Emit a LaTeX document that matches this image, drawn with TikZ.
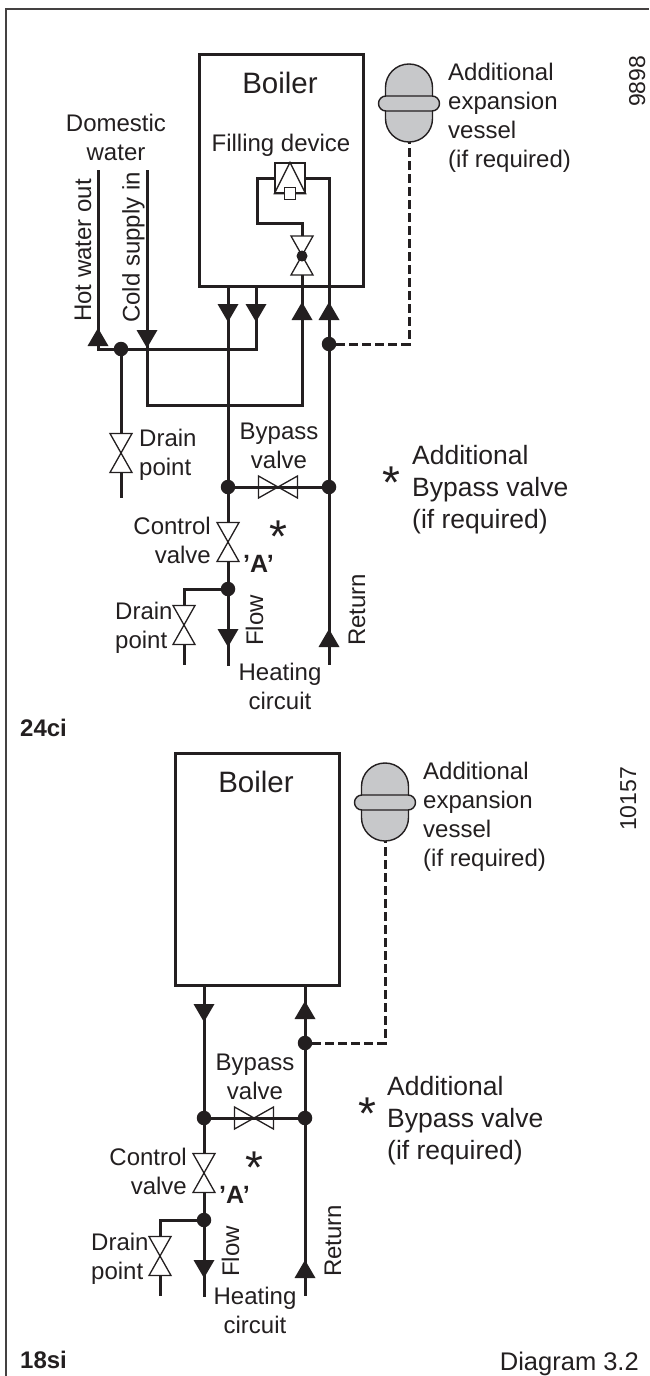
\documentclass[tikz,border=0pt]{standalone}
\usepackage{fontspec}
\setmainfont{Liberation Sans}
\definecolor{inkline}{HTML}{231F20}
\definecolor{vesselgrey}{HTML}{C7C8CA}
\tikzset{
  pipe/.style={draw=inkline, line width=3pt},
  thinline/.style={draw=inkline, line width=1.3pt},
  dashpipe/.style={draw=inkline, line width=3pt, dash pattern=on 9pt off 4pt},
  junction/.style={circle, fill=inkline, inner sep=0pt, minimum size=14.5pt},
  tag/.style={inner sep=0pt, text=inkline, anchor=base, align=center,
    font=\fontsize{24}{29}\selectfont},
  tagleft/.style={tag, anchor=base west, align=left},
  tagright/.style={tag, anchor=base east, align=right},
  uptag/.style={tag, anchor=base west, rotate=90},
  startag/.style={inner sep=0pt, text=inkline, font=\fontsize{46}{46}\selectfont},
  boilerbox/.style={draw=inkline, line width=3pt, minimum width=164pt, minimum height=232pt, inner sep=0pt},
  pics/valve/.style={code={
    \draw[thinline, fill=white] (-11,-19.5) -- (11,-19.5) -- (-11,19.5) -- (11,19.5) -- cycle;
    \coordinate (-in) at (0,-19.5);
    \coordinate (-out) at (0,19.5);
  }},
  pics/head/.style={code={
    \fill[inkline] (-10.5,-18) -- (10.5,-18) -- (0,0) -- cycle;
  }},
  pics/vessel/.style={code={
    \draw[draw=inkline, line width=1.4pt, fill=vesselgrey, rounded corners=23.4pt] (-23.5,-78) rectangle (23.5,0);
    \draw[draw=inkline, line width=1.4pt, fill=vesselgrey, rounded corners=7.5pt] (-30.5,-46) rectangle (30.5,-31);
    \coordinate (-foot) at (0,0);
  }},
  pics/heating/.style={code={
    % junctions
    \node[junction] (-flow) at (0,0) {};
    \node[junction] (-ret) at (101,0) {};
    \node[junction] (-tee) at (0,102) {};
    \coordinate (-corner) at (-44,102);
    \coordinate (-flowend) at (0,179);
    \coordinate (-retend) at (101,178);
    \coordinate (-drainend) at (-44,178);
    % valves
    \pic[rotate=90] (-bypass) at (50,0) {valve};
    \pic (-control) at (0,55) {valve};
    \pic (-drain) at (-44,138) {valve};
    % pipes
    \draw[pipe] (-flow) -- (-bypass-out);
    \draw[pipe] (-bypass-in) -- (-ret);
    \draw[pipe] (-flow) -- (-control-in);
    \draw[pipe] (-control-out) -- (-tee);
    \draw[pipe] (-tee) -- (-flowend);
    \draw[pipe] (-ret) -- (-retend);
    \draw[pipe] (-tee) -- (-corner) -- (-drain-in);
    \draw[pipe] (-drain-out) -- (-drainend);
    \pic at (0,160) {head};
    \pic[rotate=180] at (101,142) {head};
    % labels
    \node[tag] (-bypasstext) at (51,-19) {Bypass\\valve};
    \node[tagright] (-controltext) at (-17,76) {Control\\valve};
    \node[tagleft] (-draintext) at (-113,161) {Drain\\point};
    \node[tag, font=\fontsize{25}{29}\selectfont\bfseries, anchor=base west] (-atext) at (15,85) {\symbol{39}A\symbol{39}};
    \node[startag] (-star) at (50,50) {*};
    \node[uptag] (-flowtext) at (35,159) {Flow};
    \node[uptag] (-rettext) at (137,159) {Return};
  }}
}

\begin{document}
\begin{tikzpicture}[x=1pt, y=-1pt]
  \useasboundingbox (0,0) rectangle (649,1376);
  \draw[draw=inkline!85, line width=1.6pt] (6,1376) -- (6,9) -- (649,9);

  % 24ci boiler
  \node[boilerbox] (boilerA) at (281,170) {};
  \node[tag, font=\fontsize{29.5}{29}\selectfont] (boilerAtext) at (280,93) {Boiler};
  \node[tag] (fillingtext) at (281,151) {Filling device};
  \node[draw=inkline, line width=1.3pt, minimum width=30pt, minimum height=30pt, inner sep=0pt] (filling) at (290,178) {};
  \draw[thinline] (filling.north) -- (filling.south west) -- (filling.south east) -- cycle;
  \node[draw=inkline, line width=1.3pt, fill=white, minimum size=11.5pt, inner sep=0pt] (fillingcap) at (290,193.5) {};
  \pic (fillvalve) at (302,255.5) {valve};
  \node[circle, fill=inkline, inner sep=0pt, minimum size=11pt] (fillvalvedot) at (302,256) {};
  \coordinate (fillcorner) at (257,223);

  % expansion vessel
  \pic (vesselA) at (409,142) {vessel};
  \node[tagleft] (vesselAtext) at (448,167) {Additional\\expansion\\vessel\\(if required)};
  \node[uptag, font=\fontsize{23}{23}\selectfont] (numA) at (645,107) {9898};

  % domestic water
  \node[tag] (domestictext) at (116,160) {Domestic\\water};
  \node[uptag] (hottext) at (91,322) {Hot water out};
  \node[uptag] (coldtext) at (139.5,323) {Cold supply in};
  \coordinate (hotend) at (98,170);
  \coordinate (coldend) at (147,170);
  \coordinate (hotcorner) at (98,349);
  \coordinate (coldcorner) at (147,405);
  \coordinate (hotin) at (256,286);
  \coordinate (flowA) at (228,286);
  \coordinate (coldin) at (302,286);
  \coordinate (hotrise) at (256,349);
  \coordinate (coldrise) at (302,405);
  \node[junction] (hotdot) at (121,349) {};
  \node[junction] (retdotA) at (329,344) {};
  \pic (hotdrain) at (121,453) {valve};
  \coordinate (hotdrainend) at (121,498);
  \node[tagleft] (hotdraintext) at (139,475) {Drain\\point};

  % heating circuit
  \pic (unitA) at (228,487) {heating};
  \node[tag] (heatingAtext) at (280,709) {Heating\\circuit};
  \node[tagleft, font=\fontsize{26.5}{32}\selectfont] (bypassAnote) at (412,528) {Additional\\Bypass valve\\(if required)};
  \node[startag] (starA) at (391,483) {*};
  \node[tagleft, font=\fontsize{24}{29}\selectfont\bfseries] (nameA) at (20,736) {24ci};

  % edges
  \draw[pipe] (filling.west) -| (fillcorner) -| (fillvalve-in);
  \draw[pipe] (filling.east) -| (retdotA);
  \draw[pipe] (fillvalve-out) -- (coldin);
  \draw[pipe] (retdotA) -- (unitA-ret);
  \draw[pipe] (flowA) -- (unitA-flow);
  \draw[pipe] (coldin) -- (coldrise) -- (coldcorner) -- (coldend);
  \draw[pipe] (hotin) -- (hotrise) -- (hotcorner) -- (hotend);
  \draw[pipe] (hotdot) -- (hotdrain-in);
  \draw[pipe] (hotdrain-out) -- (hotdrainend);
  \draw[dashpipe] (retdotA) -| (vesselA-foot);
  \pic at (228,322) {head};
  \pic at (256,322) {head};
  \pic[rotate=180] at (302,302) {head};
  \pic[rotate=180] at (329,302) {head};
  \pic[rotate=180] at (98,328) {head};
  \pic at (147,348) {head};

  % 18si boiler
  \node[boilerbox] (boilerB) at (257,869) {};
  \node[tag, font=\fontsize{29.5}{29}\selectfont] (boilerBtext) at (256,792) {Boiler};
  \pic (vesselB) at (385,841) {vessel};
  \node[tagleft] (vesselBtext) at (423,866) {Additional\\expansion\\vessel\\(if required)};
  \node[uptag, font=\fontsize{23}{23}\selectfont] (numB) at (636,831) {10157};
  \coordinate (flowB) at (204,985);
  \coordinate (retB) at (305,985);
  \node[junction] (retdotB) at (305,1043) {};

  % heating circuit
  \pic (unitB) at (204,1118) {heating};
  \node[tag] (heatingBtext) at (255,1333) {Heating\\circuit};
  \node[tagleft, font=\fontsize{26.5}{32}\selectfont] (bypassBnote) at (387,1159) {Additional\\Bypass valve\\(if required)};
  \node[startag] (starB) at (367,1114) {*};
  \node[tagleft, font=\fontsize{24}{29}\selectfont\bfseries] (nameB) at (20,1368) {18si};
  \node[tagright, font=\fontsize{25.5}{29}\selectfont] (diagramtext) at (639,1370) {Diagram 3.2};

  % edges
  \draw[pipe] (flowB) -- (unitB-flow);
  \draw[pipe] (retB) -- (unitB-ret);
  \draw[dashpipe] (retdotB) -| (vesselB-foot);
  \pic at (204,1022) {head};
  \pic[rotate=180] at (305,1001) {head};
\end{tikzpicture}
\end{document}
